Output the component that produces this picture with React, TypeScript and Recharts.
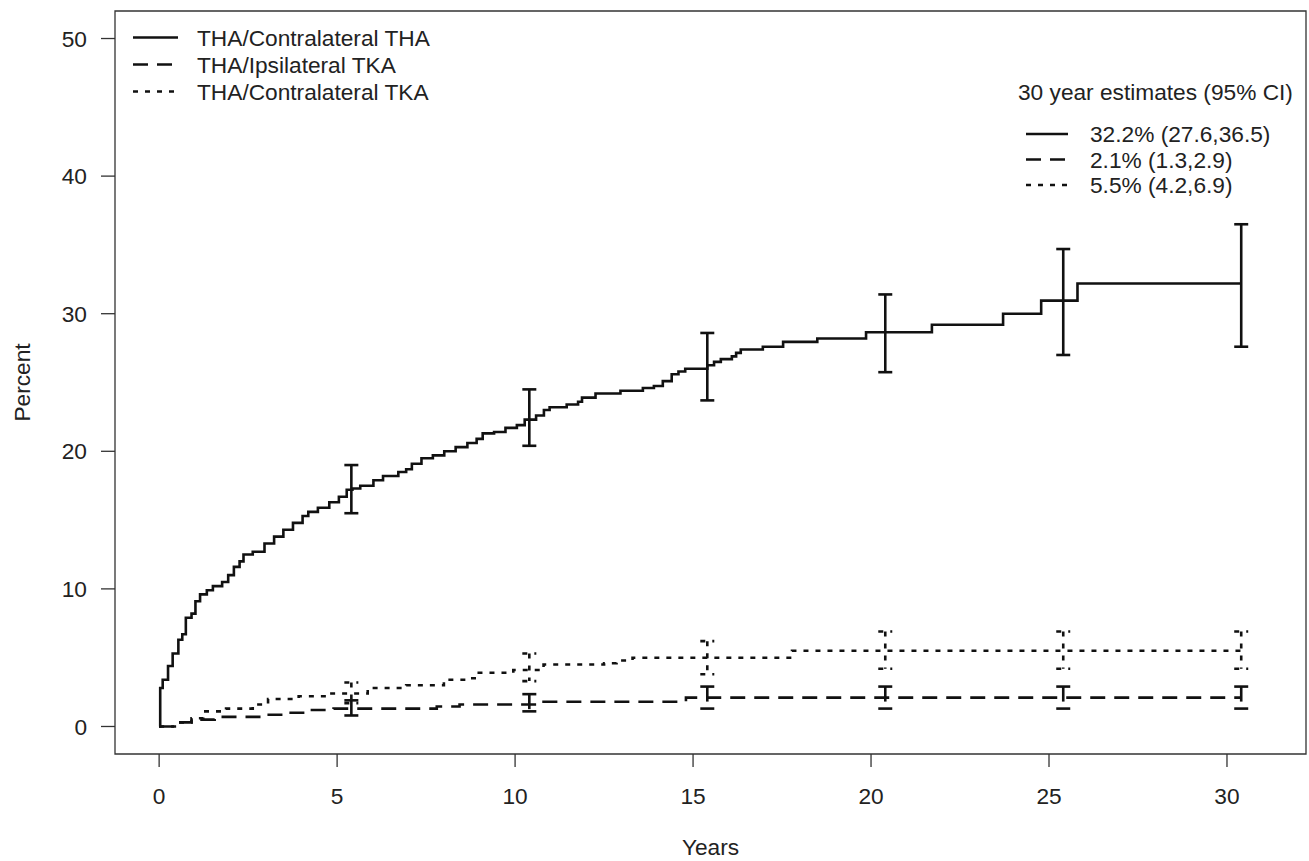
import { ComposedChart, Line, Scatter, ErrorBar, XAxis, YAxis, ReferenceArea } from "recharts";

const FONT = '"Liberation Sans", Arial, Helvetica, sans-serif';
const INK = "#111";

// cumulative incidence, step points (years, percent)
const thaThaYears = [
  0, 0.03, 0.1, 0.25, 0.38, 0.54, 0.65, 0.75, 0.91, 1.02, 1.15, 1.34, 1.51, 1.77, 1.94, 2.1, 2.26, 2.37, 2.63,
  2.96, 3.23, 3.49, 3.76, 4.03, 4.19, 4.46, 4.78, 5.05, 5.27, 5.43, 5.65, 6.02, 6.29, 6.72, 6.94, 7.1, 7.37, 7.69,
  8.01, 8.33, 8.66, 8.92, 9.09, 9.41, 9.73, 10.05, 10.27, 10.59, 10.81, 10.97, 11.45, 11.77, 11.88, 12.26, 12.96,
  13.59, 13.9, 14.15, 14.4, 14.59, 14.78, 15.4, 15.59, 15.78, 16.09, 16.21, 16.34, 16.96, 17.53, 18.49, 19.86,
  21.71, 23.71, 24.78, 25.8, 30.4,
];
const thaThaPct = [
  0, 2.8, 3.4, 4.4, 5.3, 6.3, 6.7, 7.9, 8.2, 9.1, 9.6, 9.9, 10.2, 10.5, 11.0, 11.6, 12.0, 12.5, 12.7, 13.3, 13.8,
  14.3, 14.8, 15.3, 15.6, 15.9, 16.3, 16.7, 17.2, 17.3, 17.5, 17.9, 18.2, 18.5, 18.7, 19.1, 19.5, 19.7, 20.0, 20.3,
  20.6, 20.9, 21.3, 21.4, 21.7, 21.9, 22.3, 22.6, 23.0, 23.2, 23.4, 23.6, 23.9, 24.2, 24.4, 24.6, 24.75, 25.1, 25.6,
  25.8, 26.0, 26.25, 26.5, 26.7, 26.9, 27.15, 27.4, 27.6, 27.95, 28.2, 28.65, 29.2, 30.0, 30.95, 32.2, 32.2,
];

const ipsiTkaYears = [0, 0.48, 0.91, 1.56, 2.85, 3.5, 4.25, 4.9, 7.8, 8.44, 10.8, 14.8, 30.4];
const ipsiTkaPct = [0, 0.3, 0.5, 0.7, 0.85, 1.0, 1.2, 1.3, 1.45, 1.6, 1.8, 2.1, 2.1];

const contraTkaYears = [0, 0.48, 0.91, 1.24, 1.88, 2.63, 3.06, 3.92, 4.78, 5.86, 6.94, 8.0, 8.66, 8.98, 9.95, 10.8, 12.5, 12.85, 13.3, 17.78, 30.4];
const contraTkaPct = [0, 0.3, 0.6, 1.1, 1.3, 1.6, 2.0, 2.2, 2.4, 2.8, 3.0, 3.4, 3.5, 3.9, 4.1, 4.5, 4.6, 4.8, 5.0, 5.5, 5.5];

// 95% CI bars
const ciYears = [5.4, 10.4, 15.4, 20.4, 25.4, 30.4];
const thaThaMid = [17.3, 22.4, 26.25, 28.65, 30.95, 32.2];
const thaThaLow = [15.5, 20.4, 23.7, 25.75, 27.0, 27.6];
const thaThaHigh = [19.0, 24.5, 28.6, 31.4, 34.7, 36.5];
const ipsiTkaMid = [1.3, 1.7, 2.1, 2.1, 2.1, 2.1];
const ipsiTkaLow = [0.8, 1.1, 1.3, 1.3, 1.3, 1.3];
const ipsiTkaHigh = [1.9, 2.35, 2.9, 2.9, 2.9, 2.9];
const contraTkaMid = [2.45, 4.2, 5.0, 5.5, 5.5, 5.5];
const contraTkaLow = [1.7, 3.3, 3.8, 4.2, 4.2, 4.2];
const contraTkaHigh = [3.2, 5.3, 6.2, 6.9, 6.9, 6.9];

const xTicks = [0, 5, 10, 15, 20, 25, 30];
const yTicks = [0, 10, 20, 30, 40, 50];
const X_MIN = -1.24;
const X_MAX = 32.22;
const Y_MIN = -2;
const Y_MAX = 52;

const seriesNames = ["THA/Contralateral THA", "THA/Ipsilateral TKA", "THA/Contralateral TKA"];
const estimateTitle = "30 year estimates (95% CI)";
const estimateLabels = ["32.2% (27.6,36.5)", "2.1% (1.3,2.9)", "5.5% (4.2,6.9)"];
const dashes = [undefined, "15 9", "5 7"];

const toSteps = (xs: number[], ys: number[]) => xs.map((x, i) => ({ x, y: ys[i] }));
// offsets given as negatives so the stem is stroked from the upper limit down (as in the original)
const toCi = (mid: number[], lo: number[], hi: number[]) =>
  ciYears.map((x, i) => ({ x, y: mid[i], err: [mid[i] - hi[i], lo[i] - mid[i]] }));

const curves = [
  toSteps(thaThaYears, thaThaPct),
  toSteps(ipsiTkaYears, ipsiTkaPct),
  toSteps(contraTkaYears, contraTkaPct),
];
const bars = [
  toCi(thaThaMid, thaThaLow, thaThaHigh),
  toCi(ipsiTkaMid, ipsiTkaLow, ipsiTkaHigh),
  toCi(contraTkaMid, contraTkaLow, contraTkaHigh),
];

const W = 1309;
const H = 861;
const tickStyle = { fontSize: 22.7, fill: "#222", fontFamily: FONT };

function Legends() {
  const textProps = { fontSize: 22.7, fill: "#222", fontFamily: FONT, dominantBaseline: "central" as const };
  return (
    <svg width={W} height={H} style={{ position: "absolute", left: 0, top: 0, pointerEvents: "none" }}>
      {seriesNames.map((name, i) => (
        <g key={name}>
          <line x1={133} x2={178} y1={37.5 + i * 27} y2={37.5 + i * 27} stroke={INK} strokeWidth={2.6} strokeDasharray={dashes[i]} />
          <text x={197} y={37.5 + i * 27} {...textProps}>{name}</text>
        </g>
      ))}
      <text x={1018} y={92} {...textProps}>{estimateTitle}</text>
      {estimateLabels.map((label, i) => (
        <g key={label}>
          <line x1={1026} x2={1068} y1={134 + i * 25.5} y2={134 + i * 25.5} stroke={INK} strokeWidth={2.6} strokeDasharray={dashes[i]} />
          <text x={1090} y={134 + i * 25.5} {...textProps}>{label}</text>
        </g>
      ))}
    </svg>
  );
}

export default function App() {
  return (
    <div style={{ position: "absolute", left: 0, top: 0, width: W, height: H, background: "#fff" }}>
      <ComposedChart width={W} height={H} margin={{ top: 11, right: 3, bottom: 0, left: 0 }}>
        <XAxis
          dataKey="x"
          type="number"
          domain={[X_MIN, X_MAX]}
          allowDataOverflow
          ticks={xTicks}
          tick={tickStyle}
          tickLine={{ stroke: "#333", strokeWidth: 1.3 }}
          axisLine={false}
          tickSize={13}
          tickMargin={21}
          height={107}
          label={{ value: "Years", position: "insideBottom", offset: 6, style: tickStyle }}
        />
        <YAxis
          dataKey="y"
          type="number"
          domain={[Y_MIN, Y_MAX]}
          allowDataOverflow
          ticks={yTicks}
          tick={tickStyle}
          tickLine={{ stroke: "#333", strokeWidth: 1.3 }}
          axisLine={false}
          tickSize={14}
          tickMargin={14}
          width={115}
          label={{ value: "Percent", angle: -90, position: "insideLeft", offset: 22, style: { ...tickStyle, textAnchor: "middle" } }}
        />
        <ReferenceArea x1={X_MIN} x2={X_MAX} y1={Y_MIN} y2={Y_MAX} fill="none" stroke="#333" strokeWidth={1.3} ifOverflow="visible" />
        {curves.map((data, i) => (
          <Line
            key={seriesNames[i]}
            data={data}
            dataKey="y"
            type="stepAfter"
            stroke={INK}
            strokeWidth={2.6}
            strokeDasharray={dashes[i]}
            dot={false}
            activeDot={false}
            isAnimationActive={false}
          />
        ))}
        {bars.map((data, i) => (
          <Scatter key={"ci" + i} data={data} dataKey="y" shape={() => <g />} isAnimationActive={false}>
            <ErrorBar
              dataKey="err"
              direction="y"
              width={7}
              stroke={INK}
              strokeWidth={2.6}
              strokeDasharray={dashes[i]}
              isAnimationActive={false}
            />
          </Scatter>
        ))}
      </ComposedChart>
      <Legends />
    </div>
  );
}
